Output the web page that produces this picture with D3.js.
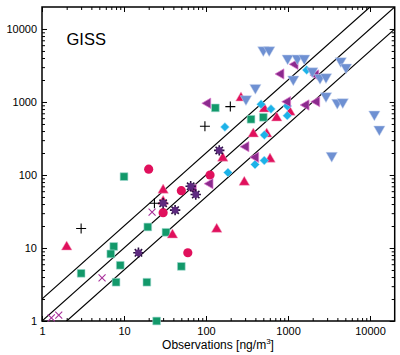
<!DOCTYPE html>
<html><head><meta charset="utf-8">
<script src="https://cdn.jsdelivr.net/npm/d3@7"></script>
<style>
body{margin:0;background:#fff;}
text{font-family:"Liberation Sans",Arial,Helvetica,sans-serif;}
</style></head>
<body><svg id="c" width="400" height="355"></svg>
<script>
// ---- data (observations x, model y), ng/m3 ----
const greenSquares = [[10,95],[7.5,10.5],[6.9,8.3],[9,5.8],[3,4.5],[8,3.4],[25,1],[19.5,19.4],[19,3.4],[50,5.6],[32.5,16.4],[130,830],[354,580],[500,617]];
const redTriangles = [[2,10],[30,60],[30,42],[39,14.6],[135,17.5],[160,165],[293,77],[267,1100],[514,777],[728,585],[1057,700],[377,353],[550,353],[603,160]];
const redCircles = [[20,120],[50,61],[30,30.5],[60,8.6],[112,100]];
const purpleStars = [[65,70],[75,54],[42,33],[30,41],[15,8.6],[145,217]];
const purpleCrosses = [[1.3,1.1],[1.6,1.2],[5.4,3.9],[22,31]];
const blackPlus = [[3,18.5],[23.5,41],[97,465],[198,865]];
const cyanDiamonds = [[170,455],[185,108],[469,930],[620,802],[980,880],[980,650],[514,353],[396,139],[514,158],[1690,2740]];
const purpleLeftTri = [[70,64],[112,76],[105,960],[307,244],[404,175],[820,2420],[1220,3280],[2180,2340],[990,1010],[1660,910],[2240,1010]];
const blueDownTri = [[307,1100],[400,1570],[500,5150],[590,5150],[990,3970],[1300,3970],[1580,3970],[1160,2050],[1980,2650],[2456,2150],[2906,2200],[4400,3650],[5100,2990],[2906,1210],[3990,980],[4650,1000],[11300,678],[13000,423],[3410,184]];
const majorTicks = [1,10,100,1000,10000];
const ratioLines = [2,1,0.5];
const panelLabel = "GISS";
const xTitle = "Observations [ng/m";

const svg = d3.select("#c");
const L=42,T=7,R=394.7,B=321;
const x = d3.scaleLog().domain([1,20000]).range([L,R]);
const y = d3.scaleLog().domain([1,20000]).range([B,T]);

const minorTicks=[];
for(let d=1; d<=10000; d*=10) for(let k=2;k<=9;k++){ if(d*k<20000) minorTicks.push(d*k); }

svg.append("clipPath").attr("id","pc").append("rect")
  .attr("x",L).attr("y",T).attr("width",R-L).attr("height",B-T);

// ratio lines
const line = d3.line().x(d=>x(d[0])).y(d=>y(d[1]));
svg.append("g").attr("clip-path","url(#pc)").selectAll("path").data(ratioLines).join("path")
  .attr("d",r=>line([[0.5,0.5*r],[40000,40000*r]]))
  .attr("fill","none").attr("stroke","#000").attr("stroke-width",1.2);

// axes
function styleAxis(g){ g.select(".domain").remove(); g.selectAll(".tick line").attr("stroke","#000").attr("stroke-width",1);
  g.selectAll("text").attr("font-size",11).attr("fill","#000").attr("font-family","Liberation Sans,Arial,sans-serif"); }
const fmt = d3.format("d");
svg.append("g").attr("transform",`translate(0,${B})`).call(d3.axisBottom(x).tickValues(majorTicks).tickSizeInner(-5).tickSizeOuter(0).tickPadding(6).tickFormat(fmt)).call(styleAxis);
svg.append("g").attr("transform",`translate(0,${B})`).call(d3.axisBottom(x).tickValues(minorTicks).tickSizeInner(-3).tickSizeOuter(0).tickFormat("")).call(styleAxis);
svg.append("g").attr("transform",`translate(0,${T})`).call(d3.axisTop(x).tickValues(majorTicks).tickSizeInner(-5).tickSizeOuter(0).tickFormat("")).call(styleAxis);
svg.append("g").attr("transform",`translate(0,${T})`).call(d3.axisTop(x).tickValues(minorTicks).tickSizeInner(-3).tickSizeOuter(0).tickFormat("")).call(styleAxis);
svg.append("g").attr("transform",`translate(${L},0)`).call(d3.axisLeft(y).tickValues(majorTicks).tickSizeInner(-5).tickSizeOuter(0).tickPadding(5).tickFormat(fmt)).call(styleAxis);
svg.append("g").attr("transform",`translate(${L},0)`).call(d3.axisLeft(y).tickValues(minorTicks).tickSizeInner(-3).tickSizeOuter(0).tickFormat("")).call(styleAxis);
svg.append("g").attr("transform",`translate(${R},0)`).call(d3.axisRight(y).tickValues(majorTicks).tickSizeInner(-5).tickSizeOuter(0).tickFormat("")).call(styleAxis);
svg.append("g").attr("transform",`translate(${R},0)`).call(d3.axisRight(y).tickValues(minorTicks).tickSizeInner(-3).tickSizeOuter(0).tickFormat("")).call(styleAxis);

svg.append("rect").attr("x",L).attr("y",T).attr("width",R-L).attr("height",B-T)
  .attr("fill","none").attr("stroke","#000").attr("stroke-width",1.5);

// symbols
const tr = d=>`translate(${x(d[0])},${y(d[1])})`;
const sym = (type,size)=>d3.symbol().type(type).size(size)();

svg.append("g").selectAll("path").data(greenSquares).join("path")
  .attr("transform",tr).attr("d",sym(d3.symbolSquare,60)).attr("fill","#12996a").attr("stroke","#9fd9d0").attr("stroke-width",0.6);
svg.append("g").selectAll("path").data(redTriangles).join("path")
  .attr("transform",d=>tr(d)+" translate(0,-1)").attr("d",sym(d3.symbolTriangle,48)).attr("fill","#e0105c").attr("stroke","#f4a0c0").attr("stroke-width",0.5);
svg.append("g").selectAll("path").data(redCircles).join("path")
  .attr("transform",tr).attr("d",sym(d3.symbolCircle,66)).attr("fill","#e0105c");
svg.append("g").selectAll("path").data(cyanDiamonds).join("path")
  .attr("transform",d=>tr(d)+" rotate(45)").attr("d",sym(d3.symbolSquare,40)).attr("fill","#1cb2e8").attr("stroke","#b8e8f8").attr("stroke-width",0.5);
svg.append("g").selectAll("path").data(purpleLeftTri).join("path")
  .attr("transform",d=>tr(d)+" rotate(-90)").attr("d",sym(d3.symbolTriangle,46)).attr("fill","#8c2a8e").attr("stroke","#e080d0").attr("stroke-width",0.7);
svg.append("g").selectAll("path").data(blueDownTri).join("path")
  .attr("transform",d=>tr(d)+" rotate(180)").attr("d",sym(d3.symbolTriangle,56)).attr("fill","#6e90d2").attr("stroke","#c8d4ee").attr("stroke-width",0.5);
// asterisk stars
const starG = svg.append("g").selectAll("g").data(purpleStars).join("g").attr("transform",tr);
starG.append("path").attr("d",()=>{let p="";for(let i=0;i<8;i++){const a=i*Math.PI/4;p+=`M0,0L${(5.2*Math.cos(a)).toFixed(2)},${(5.2*Math.sin(a)).toFixed(2)}`;}return p;})
  .attr("stroke","#2a1040").attr("stroke-width",1.6);
starG.append("circle").attr("r",3.4).attr("fill","#5e2a80");
// crosses
svg.append("g").selectAll("path").data(purpleCrosses).join("path")
  .attr("transform",tr).attr("d","M-3.5,-3.5L3.5,3.5M-3.5,3.5L3.5,-3.5").attr("stroke","#a8309a").attr("stroke-width",1.1).attr("fill","none");
// plus
svg.append("g").selectAll("path").data(blackPlus).join("path")
  .attr("transform",tr).attr("d","M-5,0L5,0M0,-5L0,5").attr("stroke","#000").attr("stroke-width",1.1).attr("fill","none");

// texts
svg.append("text").attr("x",66.5).attr("y",45).attr("font-size",16.5).attr("fill","#000").text(panelLabel);
const t = svg.append("text").attr("x",218).attr("y",349).attr("text-anchor","middle").attr("font-size",12).attr("fill","#000");
t.append("tspan").text(xTitle);
t.append("tspan").attr("dy",-5).attr("font-size",8).text("3");
t.append("tspan").attr("dy",5).text("]");
</script></body></html>
